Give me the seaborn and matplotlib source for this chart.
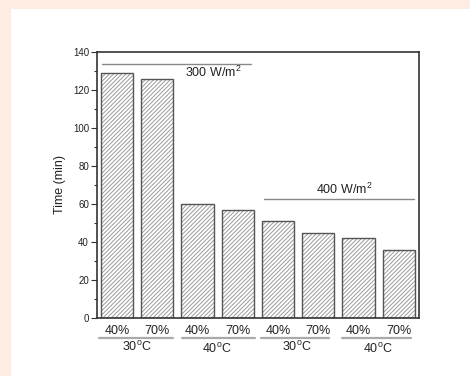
import matplotlib
matplotlib.use("Agg")
import matplotlib.pyplot as plt
import seaborn as sns
import pandas as pd
from matplotlib.patches import Rectangle

humidity = ["40%", "70%", "40%", "70%", "40%", "70%", "40%", "70%"]
temps = ["30$^\\mathregular{o}$C", "40$^\\mathregular{o}$C", "30$^\\mathregular{o}$C", "40$^\\mathregular{o}$C"]
times = [129, 126, 60, 57, 51, 45, 42, 36]
irradiance = ["300 W/m$^\\mathregular{2}$", "400 W/m$^\\mathregular{2}$"]

sns.set_style("ticks")
plt.rcParams['font.family'] = ['Liberation Sans', 'DejaVu Sans']
plt.rcParams['hatch.linewidth'] = 0.7

df = pd.DataFrame({"cond": [str(i) for i in range(len(times))], "time": times})

fig = plt.figure(figsize=(4.7, 3.76), dpi=100, facecolor="#fcece1")
fig.patches.append(Rectangle((11/470, 0), 1, 1 - 9/376, transform=fig.transFigure,
                             facecolor="white", edgecolor="none", zorder=-10))
ax = fig.add_axes([96.7/470, 1 - 318/376, (419 - 96.7)/470, (318 - 52)/376])
ax.set_zorder(5)
ax.set_facecolor("white")

# hatched fill (light grey hatch)
sns.barplot(data=df, x="cond", y="time", color="white", saturation=1,
            edgecolor="#9a9a9a", linewidth=0, ax=ax, width=0.8)
for p in ax.patches:
    p.set_hatch("/" * 8)
# dark outline
sns.barplot(data=df, x="cond", y="time", fill=False, color="#555555", saturation=1,
            edgecolor="#555555", linewidth=1.0, ax=ax, width=0.8)

ax.set_xlim(-0.5, 7.5)
ax.set_ylim(0, 140)
ax.set_yticks(range(0, 141, 20))
ax.set_yticks(range(10, 141, 20), minor=True)
ax.tick_params(axis="y", which="major", labelsize=7, labelcolor="#222222", length=4, width=0.8, color="#333333", pad=1.5)
ax.tick_params(axis="y", which="minor", length=2.5, width=0.8, color="#333333")
ax.set_xticks([])
ax.set_xlabel("")
ax.set_ylabel("Time (min)", fontsize=9, labelpad=5, color="#222222")
for s in ax.spines.values():
    s.set_visible(True)
    s.set_color("#333333")
    s.set_linewidth(1.2)

tr = ax.get_xaxis_transform()
for i, h in enumerate(humidity):
    ax.text(i, -0.047, h, transform=tr, ha="center", va="center", fontsize=9,
            color="#222222", clip_on=False)

underlines = [(-0.44, 1.39), (1.61, 3.44), (3.59, 5.26), (5.58, 7.30)]
for x0, x1 in underlines:
    ax.plot([x0, x1], [-0.074, -0.074], transform=tr, color="#aaaaaa", lw=1.6, clip_on=False)

group_x = [0.49, 2.49, 4.46, 6.47]
group_y = [-0.108, -0.118, -0.108, -0.118]
for gx, gy, t in zip(group_x, group_y, temps):
    ax.text(gx, gy, t, transform=tr, ha="center", va="center", fontsize=9,
            color="#222222", clip_on=False)

ax.plot([-0.37, 3.34], [133.5, 133.5], color="#888888", lw=1.0)
ax.text(3.09, 129, irradiance[0], ha="right", va="center", fontsize=9, color="#222222")
ax.plot([3.65, 7.37], [62.5, 62.5], color="#888888", lw=1.0)
ax.text(5.65, 67.8, irradiance[1], ha="center", va="center", fontsize=9, color="#222222")

fig.savefig("out.png", dpi=100, facecolor=fig.get_facecolor())
